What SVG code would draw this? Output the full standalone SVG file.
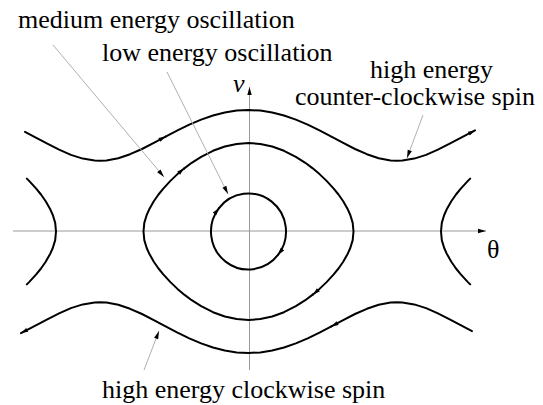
<svg xmlns="http://www.w3.org/2000/svg" width="543" height="405" viewBox="0 0 543 405">
<style>
.t{font-family:"Liberation Serif","Times New Roman",serif;font-size:26px;fill:#000}
.orb{fill:none;stroke:#000;stroke-width:2;stroke-linejoin:round;stroke-linecap:round}
.ax{fill:none;stroke:#9a9a9a;stroke-width:1}
.ld{fill:none;stroke:#b0b0b0;stroke-width:1}
</style>
<defs>
<marker id="ca" markerUnits="userSpaceOnUse" markerWidth="8" markerHeight="6" refX="7" refY="2.2" orient="auto" overflow="visible">
<path d="M0,0 L7,2.2 L0,4.4 z" fill="#000"/>
</marker>
<marker id="la" markerUnits="userSpaceOnUse" markerWidth="10" markerHeight="6" refX="8" refY="2.2" orient="auto" overflow="visible">
<path d="M0,0 L8,2.2 L0,4.4 z" fill="#000"/>
</marker>
</defs>
<rect width="543" height="405" fill="#fff"/>
<g id="axes">
<path class="ax" d="M13,231 H486" marker-end="url(#la)"/>
<path class="ax" d="M249.5,370 V87" marker-end="url(#la)"/>
</g>
<g id="low-orbit">
<path class="orb" d="M278.2,254.7 A37.5,38 0 0 1 218.8,208.3" marker-end="url(#ca)"/>
<path class="orb" d="M218.8,208.3 A37.5,38 0 0 1 278.2,254.7" marker-end="url(#ca)"/>
</g>
<g id="medium-orbit">
<path class="orb" marker-end="url(#ca)" d="M313,294.4 L305.3,300.2 L295.85,306.2 L284,312.2 L272.2,316.5 L260.3,319.1 L248.5,320 L236.7,319.1 L224.8,316.5 L213,312.2 L201.15,306.2 L191.7,300.2 L184.6,294.9 L177.5,288.9 L170.4,282.1 L163.3,274.4 L158.5,268.5 L153.8,261.7 L149.1,253.4 L146.7,248 L144.3,240.1 L143.5,231.5 L144.3,222.9 L146.7,215 L149.1,209.6 L153.8,201.3 L158.5,194.5 L163.3,188.6 L170.4,180.9 L177.5,174.1 L184,168.6"/>
<path class="orb" marker-end="url(#ca)" d="M184,168.6 L191.7,162.8 L201.15,156.8 L213,150.8 L224.8,146.5 L236.7,143.9 L248.5,143 L260.3,143.9 L272.2,146.5 L284,150.8 L295.85,156.8 L305.3,162.8 L312.4,168.1 L319.5,174.1 L326.6,180.9 L333.7,188.6 L338.5,194.5 L343.2,201.3 L347.9,209.6 L350.3,215 L352.7,222.9 L353.5,231.5 L352.7,240.1 L350.3,248 L347.9,253.4 L343.2,261.7 L338.5,268.5 L333.7,274.4 L326.6,282.1 L319.5,288.9 L313,294.4"/>
</g>
<g id="left-orbit">
<path class="orb" d="M26.8,178.6 L29.1,180.9 L36.2,188.6 L41,194.5 L45.7,201.3 L50.4,209.6 L52.8,215 L55.2,222.9 L56,231.5 L55.2,240.1 L52.8,248 L50.4,253.4 L45.7,261.7 L41,268.5 L36.2,274.4 L29.1,282.1 L26.8,284.4"/>
</g>
<g id="right-orbit">
<path class="orb" d="M470.2,178.6 L467.9,180.9 L460.8,188.6 L456,194.5 L451.3,201.3 L446.6,209.6 L444.2,215 L441.8,222.9 L441,231.5 L441.8,240.1 L444.2,248 L446.6,253.4 L451.3,261.7 L456,268.5 L460.8,274.4 L467.9,282.1 L470.2,284.4"/>
</g>
<g id="ccw-spin">
<path class="orb" marker-end="url(#ca)" d="M25,131.9 L35.4,137.4 L47.3,143.7 L59.1,149.7 L70.9,154.9 L82.8,158.6 L94.6,160.6 L99.75,160.8 L106.45,160.5 L118.3,158.2 L130.1,154.2 L142,149 L153.8,142.9 L165.6,136.6"/>
<path class="orb" marker-end="url(#ca)" d="M165.6,136.6 L177.5,130.4 L189.3,124.6 L201.15,119.6 L213,115.5 L224.8,112.5 L236.7,110.6 L248.5,110 L260.3,110.6 L272.2,112.5 L284,115.5 L295.85,119.6 L307.7,124.6 L319.5,130.4 L331.4,136.6 L343.2,142.9 L355,149 L366.9,154.2 L378.7,158.2 L390.55,160.5 L397.25,160.8 L402.4,160.6 L414.2,158.6 L426.1,154.9 L437.9,149.7 L449.7,143.7 L461.6,137.4 L475,130.4"/>
</g>
<g id="cw-spin">
<path class="orb" marker-end="url(#ca)" d="M472,331.1 L461.6,325.6 L449.7,319.3 L437.9,313.3 L426.1,308.1 L414.2,304.4 L402.4,302.4 L397.25,302.2 L390.55,302.5 L378.7,304.8 L366.9,308.8 L355,314 L343.2,320.1 L331.4,326.4"/>
<path class="orb" marker-end="url(#ca)" d="M331.4,326.4 L319.5,332.6 L307.7,338.4 L295.85,343.4 L284,347.5 L272.2,350.5 L260.3,352.4 L248.5,353 L236.7,352.4 L224.8,350.5 L213,347.5 L201.15,343.4 L189.3,338.4 L177.5,332.6 L165.6,326.4 L153.8,320.1 L142,314 L130.1,308.8 L118.3,304.8 L106.45,302.5 L99.75,302.2 L94.6,302.4 L82.8,304.4 L70.9,308.1 L59.1,313.3 L47.3,319.3 L35.4,325.6 L21,333.1"/>
</g>
<g id="labels">
<text class="t" x="18" y="28">medium energy oscillation</text>
<text class="t" x="102" y="60.5">low energy oscillation</text>
<text class="t" x="370" y="78">high energy</text>
<text class="t" x="295" y="105">counter-clockwise spin</text>
<text class="t" x="102" y="398">high energy clockwise spin</text>
<text class="t" x="233" y="92" font-style="italic">v</text>
<text class="t" x="487" y="258" font-size="24">θ</text>
</g>
<g id="connectors">
<path class="ld" d="M53,45 L164,177" marker-end="url(#la)"/>
<path class="ld" d="M167,72 L228,194" marker-end="url(#la)"/>
<path class="ld" d="M423,115 L407,158" marker-end="url(#la)"/>
<path class="ld" d="M144,370 L159,331" marker-end="url(#la)"/>
</g>
</svg>
